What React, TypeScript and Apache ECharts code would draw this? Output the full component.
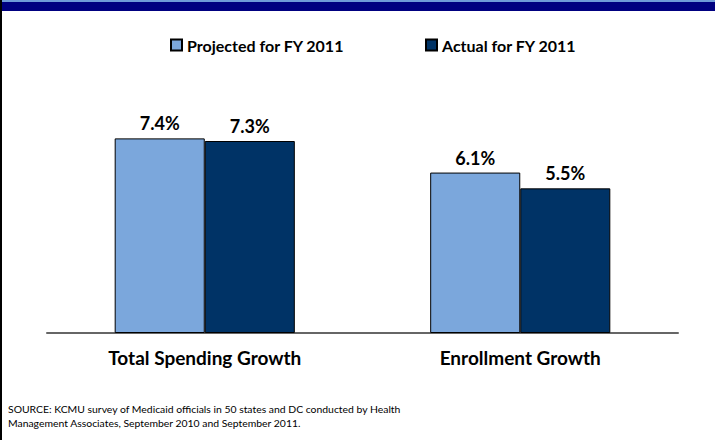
import React, { useEffect, useRef } from "react";
import * as echarts from "echarts";

const categories = ["Total Spending Growth", "Enrollment Growth"];
const projected = [7.4, 6.1];
const actual = [7.3, 5.5];
const seriesNames = ["Projected for FY 2011", "Actual for FY 2011"];
const sourceLines = [
  "SOURCE: KCMU survey of Medicaid officials in 50 states and DC conducted by Health",
  "Management Associates, September 2010 and September 2011.",
];

const FONT = "Lato, 'Liberation Sans', sans-serif";

export default function App() {
  const ref = useRef<HTMLDivElement>(null);
  useEffect(() => {
    if (!ref.current) return;
    const chart = echarts.init(ref.current, null, { renderer: "svg" });
    const labelCfg = {
      show: true,
      position: "top",
      distance: 6,
      formatter: (p: any) => p.value.toFixed(1) + "%",
      fontFamily: FONT,
      fontWeight: "bold",
      fontSize: 18,
      color: "#000",
    };
    const legendText = {
      fontFamily: FONT,
      fontWeight: "bold",
      fontSize: 16,
      color: "#000",
    };
    chart.setOption({
      animation: false,
      backgroundColor: "#fff",
      legend: [
        {
          data: [seriesNames[0]],
          left: 165,
          top: 32,
          itemWidth: 11,
          itemHeight: 11,
          textStyle: legendText,
          icon: "rect",
        },
        {
          data: [seriesNames[1]],
          left: 420,
          top: 32,
          itemWidth: 11,
          itemHeight: 11,
          textStyle: legendText,
          icon: "rect",
        },
      ],
      grid: { left: 47, right: 37, top: 70, bottom: 107 },
      xAxis: {
        type: "category",
        data: categories,
        axisLine: { show: true, lineStyle: { color: "#666", width: 2 } },
        axisTick: { show: false },
        axisLabel: {
          fontFamily: FONT,
          fontWeight: "bold",
          fontSize: 19,
          color: "#000",
          margin: 15,
        },
      },
      yAxis: {
        type: "value",
        min: 0,
        max: 10,
        show: false,
        splitLine: { show: false },
      },
      series: [
        {
          name: seriesNames[0],
          type: "bar",
          data: projected,
          barGap: "0%",
          barCategoryGap: "42.9%",
          itemStyle: { color: "#7BA7DC", borderColor: "#000", borderWidth: 1 },
          label: labelCfg,
        },
        {
          name: seriesNames[1],
          type: "bar",
          data: actual,
          itemStyle: { color: "#003366", borderColor: "#000", borderWidth: 1 },
          label: labelCfg,
        },
      ],
      graphic: [
        { type: "rect", shape: { x: 0, y: 0, width: 715, height: 2 }, style: { fill: "#6F9BD8" } },
        { type: "rect", shape: { x: 0, y: 2, width: 715, height: 9 }, style: { fill: "#000080" } },
        { type: "rect", shape: { x: 0, y: 0, width: 2, height: 440 }, style: { fill: "#000" } },
        {
          type: "text",
          left: 8,
          top: 402,
          style: { text: sourceLines.join("\n"), fontFamily: FONT, fontSize: 10.4, lineHeight: 14, fill: "#000" },
        },
      ],
    });
    return () => chart.dispose();
  }, []);
  return (
    <div
      ref={ref}
      style={{ position: "fixed", left: 0, top: 0, width: 715, height: 440 }}
    />
  );
}
